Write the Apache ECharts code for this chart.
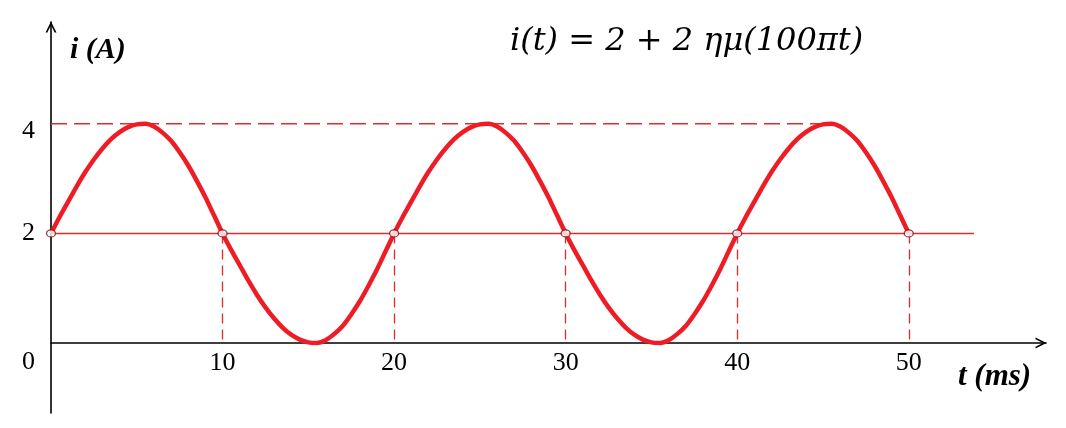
<!DOCTYPE html>
<html>
<head>
<meta charset="utf-8">
<script src="https://cdn.jsdelivr.net/npm/echarts@6/dist/echarts.min.js"></script>
<style>
html,body{margin:0;padding:0;background:#fff;}
#chart{width:1066px;height:428px;}
</style>
</head>
<body>
<div id="chart"></div>
<script>
// ---- data (every 0.5 ms) ----
const tValues = [0,0.5,1,1.5,2,2.5,3,3.5,4,4.5,5,5.5,6,6.5,7,7.5,8,8.5,9,9.5,
  10,10.5,11,11.5,12,12.5,13,13.5,14,14.5,15,15.5,16,16.5,17,17.5,18,18.5,19,19.5,
  20,20.5,21,21.5,22,22.5,23,23.5,24,24.5,25,25.5,26,26.5,27,27.5,28,28.5,29,29.5,
  30,30.5,31,31.5,32,32.5,33,33.5,34,34.5,35,35.5,36,36.5,37,37.5,38,38.5,39,39.5,
  40,40.5,41,41.5,42,42.5,43,43.5,44,44.5,45,45.5,46,46.5,47,47.5,48,48.5,49,49.5,50];
const iValues = [2.00,2.30,2.58,2.86,3.12,3.35,3.55,3.72,3.85,3.94,3.99,4.00,3.95,3.84,3.69,3.48,3.24,2.96,2.66,2.33,
  2.00,1.70,1.42,1.14,0.88,0.65,0.45,0.28,0.15,0.06,0.01,0.00,0.05,0.16,0.31,0.52,0.76,1.04,1.34,1.67,
  2.00,2.30,2.58,2.86,3.12,3.35,3.55,3.72,3.85,3.94,3.99,4.00,3.95,3.84,3.69,3.48,3.24,2.96,2.66,2.33,
  2.00,1.70,1.42,1.14,0.88,0.65,0.45,0.28,0.15,0.06,0.01,0.00,0.05,0.16,0.31,0.52,0.76,1.04,1.34,1.67,
  2.00,2.30,2.58,2.86,3.12,3.35,3.55,3.72,3.85,3.94,3.99,4.00,3.95,3.84,3.69,3.48,3.24,2.96,2.66,2.33,2.00];
const crossTimes = [0,10,20,30,40,50];
const dropTimes = [10,20,30,40,50];
const baseLevel = 2;
const peakLevel = 4;
const peakLineEnd = 45.2;
const baseLineEnd = 53.8;
const xTickLabels = [10,20,30,40,50];
const yTickLabels = [0,2,4];
const titleText = 'i(t) = 2 + 2 ημ(100πt)';
const yName = 'i (A)';
const xName = 't (ms)';

const serif = '"Liberation Serif","DejaVu Serif",serif';
const titleFont = '"DejaVu Serif","Liberation Serif",serif';
const red = '#ee1c25';
const thinRed = '#e32a2f';
const chevron = 'path://M0,10 L5,0 L10,10 L8.3,10 L5,3.2 L1.7,10 Z';

const chart = echarts.init(document.getElementById('chart'), null, {renderer:'canvas'});

const curve = tValues.map((t,i)=>[t,iValues[i]]);
const vLines = dropTimes.map(t=>[{coord:[t,baseLevel]},{coord:[t,0]}]);
const nameStyle = {fontFamily:serif,fontStyle:'italic',fontWeight:'bold',color:'#000'};

chart.setOption({
  animation:false,
  backgroundColor:'#fff',
  title:{
    text:titleText,
    left:505, top:21,
    textStyle:{fontFamily:titleFont,fontStyle:'italic',fontWeight:'normal',fontSize:32,color:'#000'}
  },
  grid:{left:51,right:20,top:22,bottom:15,containLabel:false,outerBoundsMode:'none'},
  xAxis:{
    type:'value', min:0, max:58,
    offset:-70,
    name:'{n|' + xName + '}', nameLocation:'end', nameGap:-88, nameMoveOverlap:false,
    nameTextStyle:Object.assign({fontSize:31,align:'left',verticalAlign:'middle',
      rich:{n:Object.assign({fontSize:31,padding:[68,0,0,0]},nameStyle)}},nameStyle),
    axisLine:{onZero:false,lineStyle:{color:'#000',width:1.6},symbol:['none',chevron],symbolSize:[11,13],symbolOffset:[0,-5]},
    axisTick:{show:false},
    splitLine:{show:false},
    axisLabel:{customValues:xTickLabels,margin:7,fontFamily:serif,fontSize:26,color:'#000'}
  },
  yAxis:{
    type:'value', min:-1.28, max:5.86,
    name:yName, nameLocation:'end', nameGap:-28, nameMoveOverlap:false,
    nameTextStyle:Object.assign({fontSize:30,align:'left',verticalAlign:'middle',padding:[0,0,0,19]},nameStyle),
    axisLine:{show:true,lineStyle:{color:'#000',width:1.6},symbol:['none',chevron],symbolSize:[11,13],symbolOffset:[0,-5]},
    axisTick:{show:false},
    splitLine:{show:false},
    axisLabel:{
      customValues:yTickLabels, margin:16, fontFamily:serif, fontSize:26, color:'#000',
      formatter:function(v){ if(v===0) return '{z|0}'; if(v===4) return '{f|4}'; return String(v); },
      rich:{
        z:{fontFamily:serif,fontSize:26,color:'#000',padding:[38,0,0,0]},
        f:{fontFamily:serif,fontSize:26,color:'#000',padding:[14,0,0,0]}
      }
    }
  },
  series:[
    {
      type:'line', data:[[0,peakLevel],[peakLineEnd,peakLevel]],
      showSymbol:false, silent:true, z:1,
      lineStyle:{color:thinRed,width:1.5,type:[16,7]}
    },
    {
      type:'line', data:[[0,baseLevel],[baseLineEnd,baseLevel]],
      showSymbol:false, silent:true, z:1,
      lineStyle:{color:thinRed,width:1.5},
      markLine:{silent:true,symbol:['none','none'],label:{show:false},
        lineStyle:{color:thinRed,width:1.3,type:[10,6]},data:vLines}
    },
    {
      type:'line', data:curve, smooth:0.2, showSymbol:false, z:3,
      lineStyle:{color:red,width:4.5}
    },
    {
      type:'scatter', data:crossTimes.map(t=>[t,baseLevel]), z:5,
      symbol:'circle', symbolSize:[9,7],
      itemStyle:{color:'#fff',borderColor:'#7a1010',borderWidth:1.2}
    }
  ]
});
</script>
</body>
</html>
